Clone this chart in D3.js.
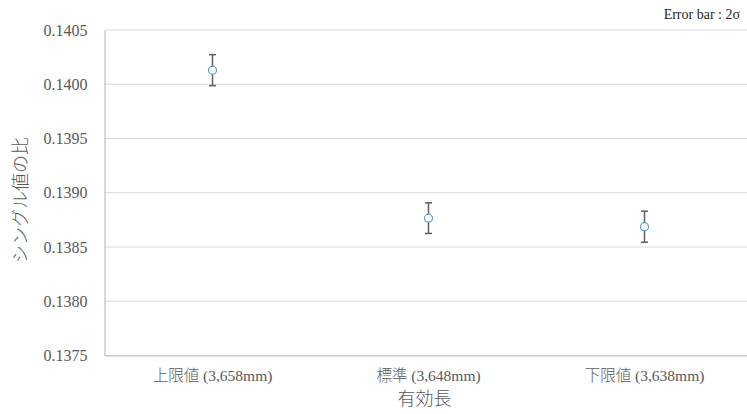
<!DOCTYPE html>
<html>
<head>
<meta charset="utf-8">
<script src="https://cdn.jsdelivr.net/npm/d3@7"></script>
<style>
  html, body { margin: 0; padding: 0; background: #fff; }
  svg { display: block; }
</style>
</head>
<body>
<svg id="chart" width="747" height="414"></svg>
<script>
// Effective length categories
const categories = ["上限値 (3,658mm)", "標準 (3,648mm)", "下限値 (3,638mm)"];
// Mean shingle ratio per category
const means = [0.14013, 0.138766, 0.138687];
// Half-width of the 2σ error bar
const errors = [0.000143, 0.000141, 0.000143];
// Y-axis ticks
const yTicks = [0.1375, 0.1380, 0.1385, 0.1390, 0.1395, 0.1400, 0.1405];

const LATIN = "'Liberation Serif', Tinos, 'Times New Roman', 'DejaVu Serif', serif";
const CJK = "'Noto Sans CJK JP', sans-serif";
const W = 747, H = 414;
const margin = { left: 104.5, top: 30, bottom: 58.5 };
const plotRight = 752.5;

const svg = d3.select("#chart");

const x = d3.scaleBand()
  .domain(categories)
  .range([margin.left, plotRight]);

const y = d3.scaleLinear()
  .domain([0.1375, 0.1405])
  .range([H - margin.bottom, margin.top]);

// Fill a text node with tspans, CJK runs in the CJK face, the rest in the serif face
function mixedText(sel, str) {
  sel.text(null);
  const runs = str.match(/[\u3000-\u9fff\uff00-\uffef]+|[^\u3000-\u9fff\uff00-\uffef]+/g) || [];
  runs.forEach(r => {
    const isCjk = /[\u3000-\u9fff\uff00-\uffef]/.test(r);
    sel.append("tspan")
      .style("font-family", isCjk ? CJK : LATIN)
      .style("font-weight", isCjk ? 300 : 400)
      .text(r);
  });
}

// Horizontal gridlines
svg.append("g")
  .selectAll("line")
  .data(yTicks)
  .join("line")
  .attr("x1", margin.left)
  .attr("x2", plotRight)
  .attr("y1", d => y(d))
  .attr("y2", d => y(d))
  .attr("stroke", "#d9d9d9")
  .attr("stroke-width", 1);

// Y axis
const yAxis = svg.append("g")
  .attr("transform", `translate(${margin.left},0)`)
  .call(d3.axisLeft(y).tickValues(yTicks).tickFormat(d3.format(".4f")).tickSize(0).tickPadding(17));
yAxis.select(".domain").attr("stroke", "#bfbfbf").attr("stroke-width", 1.2);
yAxis.selectAll("text")
  .style("font-family", LATIN)
  .style("font-size", "16px")
  .attr("fill", "#595959");

// X axis
const xAxis = svg.append("g")
  .attr("transform", `translate(0,${H - margin.bottom})`)
  .call(d3.axisBottom(x).tickSize(0).tickPadding(14));
xAxis.select(".domain").attr("stroke", "#bfbfbf").attr("stroke-width", 1.2);
xAxis.selectAll("text")
  .style("font-size", "15.5px")
  .attr("fill", "#595959")
  .each(function(d) { mixedText(d3.select(this), d); });

// Error bars
const cx = d => x(d) + x.bandwidth() / 2;
const bars = svg.append("g")
  .selectAll("g")
  .data(categories.map((c, i) => ({ c, m: means[i], e: errors[i] })))
  .join("g")
  .attr("stroke", "#5f5f5f")
  .attr("stroke-width", 1.5);
bars.append("line")
  .attr("x1", d => cx(d.c)).attr("x2", d => cx(d.c))
  .attr("y1", d => y(d.m + d.e)).attr("y2", d => y(d.m - d.e));
bars.append("line")
  .attr("x1", d => cx(d.c) - 3.5).attr("x2", d => cx(d.c) + 3.5)
  .attr("y1", d => y(d.m + d.e)).attr("y2", d => y(d.m + d.e));
bars.append("line")
  .attr("x1", d => cx(d.c) - 3.5).attr("x2", d => cx(d.c) + 3.5)
  .attr("y1", d => y(d.m - d.e)).attr("y2", d => y(d.m - d.e));

// Mean markers
svg.append("g")
  .selectAll("circle")
  .data(categories)
  .join("circle")
  .attr("cx", d => cx(d))
  .attr("cy", (d, i) => y(means[i]))
  .attr("r", 4)
  .attr("fill", "#fff")
  .attr("stroke", "#5b9bd5")
  .attr("stroke-width", 1.2);

// Axis titles
svg.append("text")
  .style("font-family", CJK)
  .style("font-weight", 300)
  .style("font-size", "18px")
  .attr("x", (margin.left + plotRight) / 2 - 4)
  .attr("y", 405)
  .attr("text-anchor", "middle")
  .attr("fill", "#595959")
  .text("有効長");

svg.append("text")
  .style("font-family", CJK)
  .style("font-weight", 300)
  .style("font-size", "18px")
  .attr("transform", `translate(27,200) rotate(-90)`)
  .attr("text-anchor", "middle")
  .attr("fill", "#595959")
  .text("シングル値の比");

// Note
svg.append("text")
  .style("font-family", LATIN)
  .style("font-size", "14px")
  .attr("x", 740)
  .attr("y", 19)
  .attr("text-anchor", "end")
  .attr("fill", "#262626")
  .text("Error bar : 2σ");
</script>
</body>
</html>
